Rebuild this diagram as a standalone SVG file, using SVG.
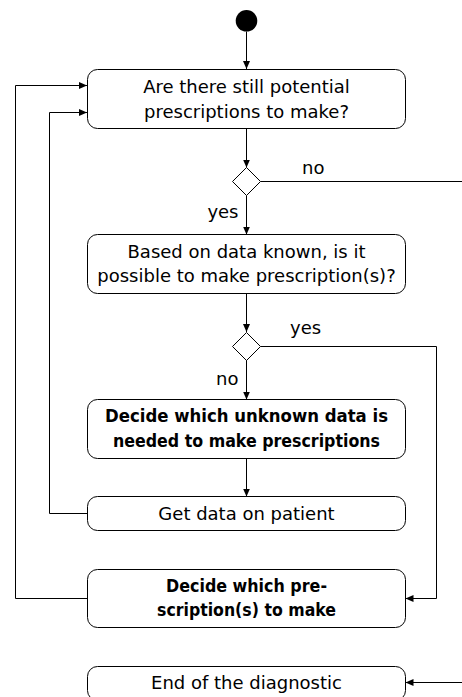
<svg xmlns="http://www.w3.org/2000/svg" width="462" height="697" viewBox="0 0 462 697">
<style>
.box{fill:#fff;stroke:#000;stroke-width:1}
.dec{fill:#fff;stroke:#000;stroke-width:1}
.t{font-family:"DejaVu Sans","Liberation Sans",sans-serif;font-size:18px;fill:#000;text-anchor:middle}
.b{font-family:"DejaVu Sans","Liberation Sans",sans-serif;font-size:18px;font-weight:bold;fill:#000;text-anchor:middle}
.lbl{font-family:"DejaVu Sans","Liberation Sans",sans-serif;font-size:18px;fill:#000}
.c{fill:none;stroke:#000;stroke-width:1;marker-end:url(#arr)}
</style>
<defs>
<marker id="arr" markerUnits="userSpaceOnUse" markerWidth="9" markerHeight="8" refX="8" refY="3.5" orient="auto">
<path d="M0,0 L8,3.5 L0,7 z" fill="#000"/>
</marker>
</defs>
<g id="connectors">
<path class="c" d="M246.5,31.5 V69"/>
<path class="c" d="M246.5,129 V167.5"/>
<path class="c" d="M246.5,195.5 V234.5"/>
<path class="c" d="M260.5,181.5 H470 V682.5 H405.5"/>
<path class="c" d="M246.5,293.5 V332"/>
<path class="c" d="M246.5,360 V399.5"/>
<path class="c" d="M260.5,346.5 H436.5 V598.5 H405.5"/>
<path class="c" d="M246.5,458.5 V496.5"/>
<path class="c" d="M87,513.5 H49.5 V112.5 H87"/>
<path class="c" d="M87,598.5 H15.5 V85.5 H87"/>
</g>
<g id="start"><circle cx="246.5" cy="20.8" r="10.8" fill="#000"/></g>
<g id="box1">
<rect class="box" x="87.5" y="69.5" width="318" height="59" rx="10"/>
<text class="t" x="246.5" y="93">Are there still potential</text>
<text class="t" x="246.5" y="117.5">prescriptions to make?</text>
</g>
<g id="dec1">
<path class="dec" d="M246.5,167.5 L260.5,181.5 L246.5,195.5 L232.5,181.5 Z"/>
<text class="lbl" x="302" y="174">no</text>
<text class="lbl" x="238.5" y="218" text-anchor="end">yes</text>
</g>
<g id="box2">
<rect class="box" x="87.5" y="234.5" width="318" height="59" rx="10"/>
<text class="t" x="246.5" y="257.5">Based on data known, is it</text>
<text class="t" x="246.5" y="282">possible to make prescription(s)?</text>
</g>
<g id="dec2">
<path class="dec" d="M246.5,332.5 L260.5,346.5 L246.5,360.5 L232.5,346.5 Z"/>
<text class="lbl" x="290" y="334">yes</text>
<text class="lbl" x="238.5" y="385" text-anchor="end">no</text>
</g>
<g id="box3">
<rect class="box" x="87.5" y="399.5" width="318" height="59" rx="10"/>
<text class="b" x="246.5" y="422" textLength="283" lengthAdjust="spacingAndGlyphs">Decide which unknown data is</text>
<text class="b" x="246.5" y="446.5" textLength="267" lengthAdjust="spacingAndGlyphs">needed to make prescriptions</text>
</g>
<g id="box4">
<rect class="box" x="87.5" y="496.5" width="318" height="34" rx="10"/>
<text class="t" x="246.5" y="520">Get data on patient</text>
</g>
<g id="box5">
<rect class="box" x="87.5" y="569.5" width="318" height="58" rx="10"/>
<text class="b" x="246.5" y="592" textLength="161" lengthAdjust="spacingAndGlyphs">Decide which pre-</text>
<text class="b" x="246.5" y="616" textLength="179" lengthAdjust="spacingAndGlyphs">scription(s) to make</text>
</g>
<g id="box6">
<rect class="box" x="87.5" y="666.5" width="318" height="34" rx="10"/>
<text class="t" x="246.5" y="689">End of the diagnostic</text>
</g>
</svg>
